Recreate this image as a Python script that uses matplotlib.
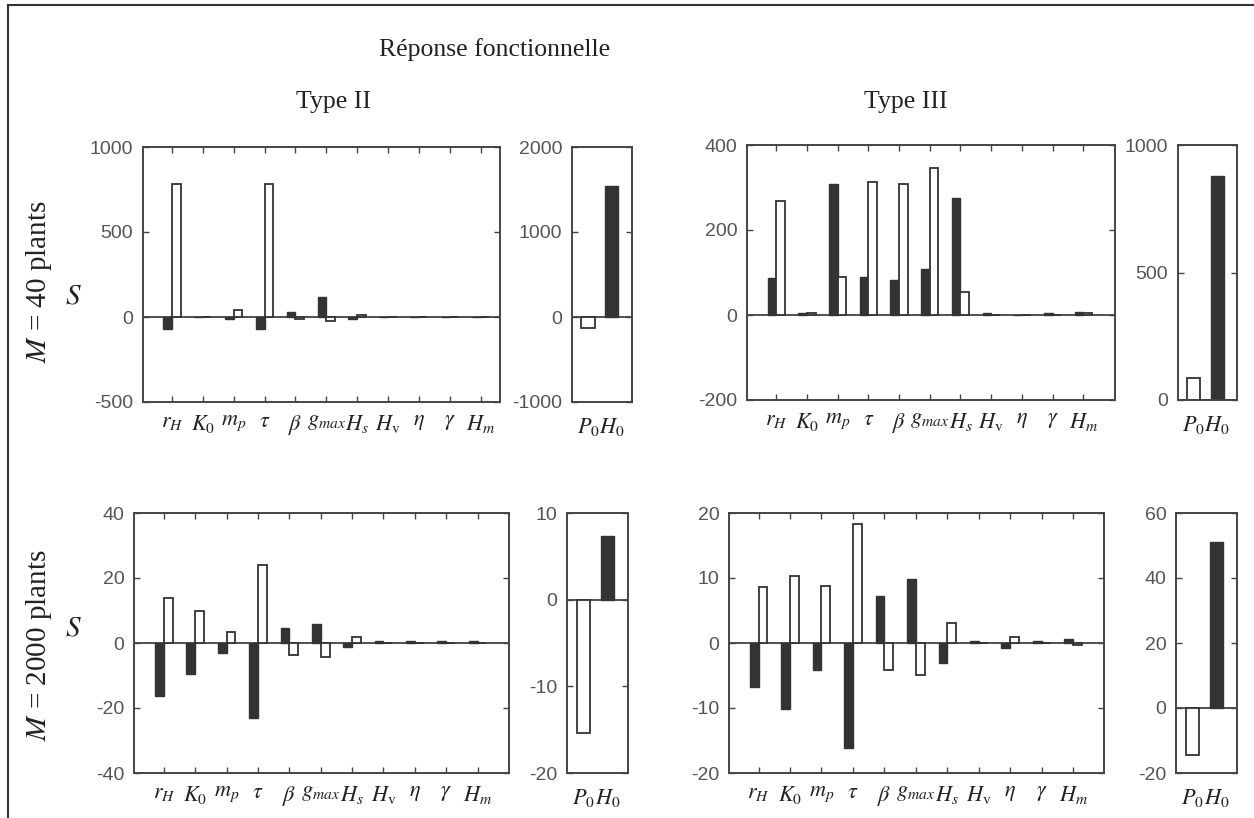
import matplotlib.pyplot as plt
from matplotlib.lines import Line2D
import numpy as np

plt.rcParams['mathtext.fontset'] = 'stix'
plt.rcParams['axes.unicode_minus'] = False
plt.rcParams['font.family'] = ['Liberation Serif', 'DejaVu Serif']

# parameter names on the x axis
params = [r'$r_H$', r'$K_0$', r'$m_p$', r'$\tau$', r'$\beta$', r'$g_{max}$',
          r'$H_s$', r'$H_\mathrm{v}$', r'$\eta$', r'$\gamma$', r'$H_m$']
init_names = [r'$P_0$', r'$H_0$']

# Type II, M = 40 plants
t2_m40_black = [-69, 0, -14, -69, 32, 120, -10, 0, 0, 0, 0]
t2_m40_white = [785, 0, 41, 785, -12, -26, 10, 0, 0, 0, 0]
t2_m40_init = [-133, 1540]

# Type III, M = 40 plants
t3_m40_black = [87, 4, 309, 90, 82, 108, 275, 4, 0, 4, 8]
t3_m40_white = [269, 4, 90, 313, 309, 346, 54, 0, 0, 0, 4]
t3_m40_init = [85, 880]

# Type II, M = 2000 plants
t2_m2000_black = [-16.2, -9.4, -3.1, -23, 4.7, 5.8, -1.3, 0.5, 0.5, 0.5, 0.5]
t2_m2000_white = [13.8, 9.7, 3.4, 24, -3.6, -4.3, 1.9, 0, 0, 0, 0]
t2_m2000_init = [-15.4, 7.4]

# Type III, M = 2000 plants
t3_m2000_black = [-6.7, -10.1, -4.2, -16.1, 7.2, 9.8, -3.0, 0.3, -0.7, 0.3, 0.6]
t3_m2000_white = [8.6, 10.3, 8.8, 18.3, -4.1, -4.9, 3.1, 0, 0.9, 0, -0.3]
t3_m2000_init = [-14.4, 51.2]

dark = '#333336'
edge = '#444444'
tick_font = ['Liberation Sans Narrow', 'Liberation Sans', 'DejaVu Sans']


def style_axes(ax):
    for sp in ax.spines.values():
        sp.set_color(edge)
        sp.set_linewidth(1.4)
    ax.axhline(0, color=dark, lw=1.2, zorder=1)


def draw_main(ax, black, white, ylim, yticks, xlim):
    x = np.arange(1, len(params) + 1)
    w = 0.28
    ax.bar(x - w / 2, black, w, color=dark, edgecolor=dark, lw=1, zorder=2)
    ax.bar(x + w / 2, white, w, color='white', edgecolor=dark, lw=1.3, zorder=2)
    ax.set_xlim(xlim)
    ax.set_ylim(ylim)
    ax.set_xticks(x)
    ax.set_xticklabels(params, fontsize=16, color='#222222')
    ax.set_yticks(yticks)
    ax.set_yticklabels([str(v) for v in yticks], fontsize=14, color='#555555', family=tick_font)
    ax.tick_params(axis='x', direction='in', top=True, bottom=True, length=4, width=1, color=edge, pad=8)
    ax.tick_params(axis='y', direction='in', left=True, right=True, length=4, width=1, color=edge, pad=7)
    style_axes(ax)


def draw_init(ax, vals, ylim, yticks):
    x = np.array([1, 2])
    w = 0.56
    ax.bar(x[0], vals[0], w, color='white', edgecolor=dark, lw=1.3, zorder=2)
    ax.bar(x[1], vals[1], w, color=dark, edgecolor=dark, lw=1, zorder=2)
    ax.set_xlim(0.32, 2.85)
    ax.set_ylim(ylim)
    ax.set_xticks(x)
    ax.set_xticklabels(init_names, fontsize=16, color='#222222')
    ax.set_yticks(yticks)
    ax.set_yticklabels([str(v) for v in yticks], fontsize=14, color='#555555', family=tick_font)
    ax.tick_params(axis='x', length=0, pad=10)
    ax.tick_params(axis='y', direction='in', left=True, right=True, length=4, width=1, color=edge, pad=7)
    style_axes(ax)


W, H = 1254, 818
fig = plt.figure(figsize=(W / 100, H / 100), dpi=100)


def box(x0, x1, y0, y1):
    # pixel box -> figure fraction
    return [x0 / W, 1 - y1 / H, (x1 - x0) / W, (y1 - y0) / H]


ax1 = fig.add_axes(box(143, 500, 147, 402))
draw_main(ax1, t2_m40_black, t2_m40_white, (-500, 1000), [-500, 0, 500, 1000], (0.06, 11.63))
ax2 = fig.add_axes(box(572, 632, 147, 402))
draw_init(ax2, t2_m40_init, (-1000, 2000), [-1000, 0, 1000, 2000])

ax3 = fig.add_axes(box(747, 1115, 145, 400))
draw_main(ax3, t3_m40_black, t3_m40_white, (-200, 400), [-200, 0, 200, 400], (0.05, 12.03))
ax4 = fig.add_axes(box(1178, 1237, 145, 400))
draw_init(ax4, t3_m40_init, (0, 1000), [0, 500, 1000])

ax5 = fig.add_axes(box(134, 509, 513, 773))
draw_main(ax5, t2_m2000_black, t2_m2000_white, (-40, 40), [-40, -20, 0, 20, 40], (0.05, 12.0))
ax6 = fig.add_axes(box(567, 628, 513, 773))
draw_init(ax6, t2_m2000_init, (-20, 10), [-20, -10, 0, 10])

ax7 = fig.add_axes(box(729, 1104, 513, 773))
draw_main(ax7, t3_m2000_black, t3_m2000_white, (-20, 20), [-20, -10, 0, 10, 20], (0.06, 11.98))
ax8 = fig.add_axes(box(1176, 1237, 513, 773))
draw_init(ax8, t3_m2000_init, (-20, 60), [-20, 0, 20, 40, 60])

# headings
fig.text(495 / W, 1 - 50 / H, 'Réponse fonctionnelle', fontsize=18.5, ha='center', va='center', color='#222222')
fig.text(334 / W, 1 - 102 / H, 'Type II', fontsize=18.5, ha='center', va='center', color='#222222')
fig.text(906 / W, 1 - 102 / H, 'Type III', fontsize=18.5, ha='center', va='center', color='#222222')

# row labels
fig.text(39 / W, 1 - 282 / H, r'$M$ = 40 plants', fontsize=21, rotation=90, ha='center', va='center', color='#222222')
fig.text(39 / W, 1 - 645 / H, r'$M$ = 2000 plants', fontsize=21, rotation=90, ha='center', va='center', color='#222222')
fig.text(73 / W, 1 - 297 / H, r'$S$', fontsize=21, ha='center', va='center', color='#222222')
fig.text(73 / W, 1 - 628 / H, r'$S$', fontsize=21, ha='center', va='center', color='#222222')

# outer frame (top and left edges only)
fig.add_artist(Line2D([8 / W, 8 / W], [0, 1 - 5 / H], color='#333333', lw=1.5))
fig.add_artist(Line2D([8 / W, 1], [1 - 5 / H, 1 - 5 / H], color='#333333', lw=1.5))

fig.savefig('out.png', dpi=100)
